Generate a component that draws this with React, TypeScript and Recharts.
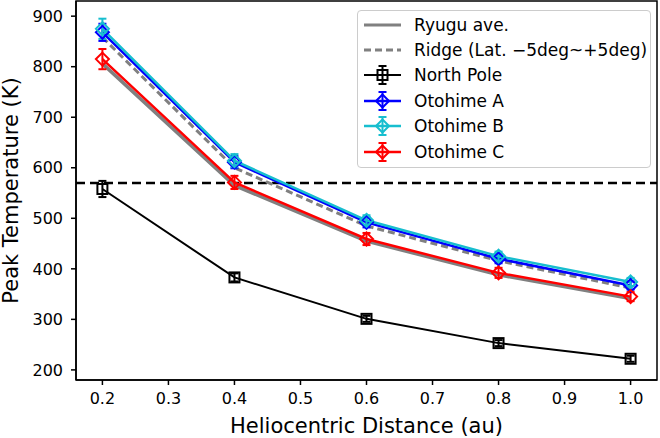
import {
  ComposedChart,
  Line,
  XAxis,
  YAxis,
  ErrorBar,
  ReferenceLine,
  ReferenceArea,
} from "recharts";

const distances = [0.2, 0.4, 0.6, 0.8, 1.0];
const ryuguAve = [806, 565, 455, 388, 341];
const ridge = [858, 600, 485, 416, 362];
const northPole = [558, 383, 301, 253, 222];
const northPoleErr = [16, 8, 6, 6, 6];
const otohimeA = [868, 611, 492, 420, 367];
const otohimeAErr = [17, 12, 10, 9, 8];
const otohimeB = [875, 614, 496, 425, 374];
const otohimeBErr = [20, 13, 10, 9, 8];
const otohimeC = [815, 571, 459, 392, 345];
const otohimeCErr = [20, 13, 12, 10, 9];
const thresholdTemp = 570;

const xTicks = [0.2, 0.3, 0.4, 0.5, 0.6, 0.7, 0.8, 0.9, 1.0];
const yTicks = [200, 300, 400, 500, 600, 700, 800, 900];
const xDomain = [0.16, 1.04];
const yDomain = [180, 930];

const FONT = '"DejaVu Sans", sans-serif';
const GRAY = "#808080";
const BLUE = "#0000ff";
const CYAN = "#17becf";
const RED = "#ff0000";

const data = distances.map((x, i) => ({
  x,
  ave: ryuguAve[i],
  ridge: ridge[i],
  np: northPole[i],
  npErr: northPoleErr[i],
  a: otohimeA[i],
  aErr: otohimeAErr[i],
  b: otohimeB[i],
  bErr: otohimeBErr[i],
  c: otohimeC[i],
  cErr: otohimeCErr[i],
}));

const diamondDot = (color: string) => (p: any) => {
  const { cx, cy, index } = p;
  if (cx == null || cy == null) return <g key={`e-${color}-${index}`} />;
  const r = 6.5;
  return (
    <path
      key={`d-${color}-${index}`}
      d={`M${cx},${cy - r}L${cx + r},${cy}L${cx},${cy + r}L${cx - r},${cy}Z`}
      fill="none"
      stroke={color}
      strokeWidth={2}
    />
  );
};

const squareDot = (p: any) => {
  const { cx, cy, index } = p;
  if (cx == null || cy == null) return <g key={`e-sq-${index}`} />;
  return (
    <rect
      key={`s-${index}`}
      x={cx - 5}
      y={cy - 5}
      width={10}
      height={10}
      fill="none"
      stroke="#000"
      strokeWidth={2}
    />
  );
};

const legendItems = [
  { name: "Ryugu ave.", color: GRAY, dash: "", width: 3, marker: "" },
  { name: "Ridge (Lat. −5deg~+5deg)", color: GRAY, dash: "7 4", width: 3, marker: "" },
  { name: "North Pole", color: "#000", dash: "", width: 2, marker: "square" },
  { name: "Otohime A", color: BLUE, dash: "", width: 2.5, marker: "diamond" },
  { name: "Otohime B", color: CYAN, dash: "", width: 2.5, marker: "diamond" },
  { name: "Otohime C", color: RED, dash: "", width: 2.5, marker: "diamond" },
];

function LegendBox() {
  return (
    <div
      style={{
        position: "absolute",
        left: 357,
        top: 10,
        width: 292,
        height: 155,
        border: "1px solid #cccccc",
        borderRadius: 4,
        background: "rgba(255,255,255,0.8)",
        fontFamily: FONT,
        fontSize: 17,
        color: "#000",
        paddingTop: 1,
      }}
    >
      {legendItems.map((it) => (
        <div
          key={it.name}
          style={{ display: "flex", alignItems: "center", height: 25.4 }}
        >
          <svg width={56} height={24} style={{ flex: "none" }}>
            <line
              x1={6}
              x2={43}
              y1={12}
              y2={12}
              stroke={it.color}
              strokeWidth={it.width}
              strokeDasharray={it.dash || undefined}
            />
            {it.marker && (
              <g stroke={it.color} strokeWidth={2} fill="none">
                <line x1={24.5} x2={24.5} y1={3} y2={21} />
                <line x1={20.5} x2={28.5} y1={3} y2={3} />
                <line x1={20.5} x2={28.5} y1={21} y2={21} />
                {it.marker === "square" ? (
                  <rect x={19.5} y={7} width={10} height={10} />
                ) : (
                  <path d="M24.5,5.5L31,12L24.5,18.5L18,12Z" />
                )}
              </g>
            )}
          </svg>
          <span style={{ whiteSpace: "nowrap" }}>{it.name}</span>
        </div>
      ))}
    </div>
  );
}

export default function App() {
  return (
    <div
      style={{
        position: "absolute",
        left: 0,
        top: 0,
        width: 660,
        height: 438,
        background: "#fff",
      }}
    >
      <ComposedChart
        width={660}
        height={438}
        data={data}
        margin={{ top: 1, right: 3, bottom: 0, left: 0 }}
      >
        <XAxis
          type="number"
          dataKey="x"
          domain={xDomain}
          ticks={xTicks}
          allowDataOverflow
          height={58}
          tickFormatter={(v: number) => v.toFixed(1)}
          tick={{ fontSize: 16, fill: "#000", fontFamily: FONT }}
          tickSize={5}
          tickMargin={8}
          axisLine={{ stroke: "#000", strokeWidth: 1.5 }}
          tickLine={{ stroke: "#000", strokeWidth: 1.5 }}
          label={{
            value: "Heliocentric Distance (au)",
            position: "insideBottom",
            offset: 5,
            fontSize: 21,
            fill: "#000",
            fontFamily: FONT,
          }}
        />
        <YAxis
          type="number"
          domain={yDomain}
          ticks={yTicks}
          allowDataOverflow
          width={76}
          tick={{ fontSize: 16, fill: "#000", fontFamily: FONT }}
          tickSize={5}
          tickMargin={8}
          axisLine={{ stroke: "#000", strokeWidth: 1.5 }}
          tickLine={{ stroke: "#000", strokeWidth: 1.5 }}
          label={{
            value: "Peak Temperature (K)",
            angle: -90,
            position: "insideLeft",
            offset: 11,
            fontSize: 21,
            fill: "#000",
            fontFamily: FONT,
            style: { textAnchor: "middle" },
          }}
        />
        <ReferenceArea
          x1={xDomain[0]}
          x2={xDomain[1]}
          y1={yDomain[0]}
          y2={yDomain[1]}
          fill="none"
          stroke="#000"
          strokeWidth={1.5}
          ifOverflow="visible"
        />
        <ReferenceLine
          y={thresholdTemp}
          stroke="#000"
          strokeWidth={2.5}
          strokeDasharray="9 5"
        />
        <Line
          dataKey="ave"
          stroke={GRAY}
          strokeWidth={3.5}
          dot={false}
          activeDot={false}
          isAnimationActive={false}
        />
        <Line
          dataKey="ridge"
          stroke={GRAY}
          strokeWidth={3}
          strokeDasharray="7 4"
          dot={false}
          activeDot={false}
          isAnimationActive={false}
        />
        <Line
          dataKey="np"
          stroke="#000"
          strokeWidth={2}
          dot={squareDot}
          activeDot={false}
          isAnimationActive={false}
        >
          <ErrorBar dataKey="npErr" direction="y" width={4} stroke="#000" strokeWidth={2} />
        </Line>
        <Line
          dataKey="a"
          stroke={BLUE}
          strokeWidth={2.5}
          dot={diamondDot(BLUE)}
          activeDot={false}
          isAnimationActive={false}
        >
          <ErrorBar dataKey="aErr" direction="y" width={4} stroke={BLUE} strokeWidth={2} />
        </Line>
        <Line
          dataKey="b"
          stroke={CYAN}
          strokeWidth={2.5}
          dot={diamondDot(CYAN)}
          activeDot={false}
          isAnimationActive={false}
        >
          <ErrorBar dataKey="bErr" direction="y" width={4} stroke={CYAN} strokeWidth={2} />
        </Line>
        <Line
          dataKey="c"
          stroke={RED}
          strokeWidth={2.5}
          dot={diamondDot(RED)}
          activeDot={false}
          isAnimationActive={false}
        >
          <ErrorBar dataKey="cErr" direction="y" width={4} stroke={RED} strokeWidth={2} />
        </Line>
      </ComposedChart>
      <LegendBox />
    </div>
  );
}
